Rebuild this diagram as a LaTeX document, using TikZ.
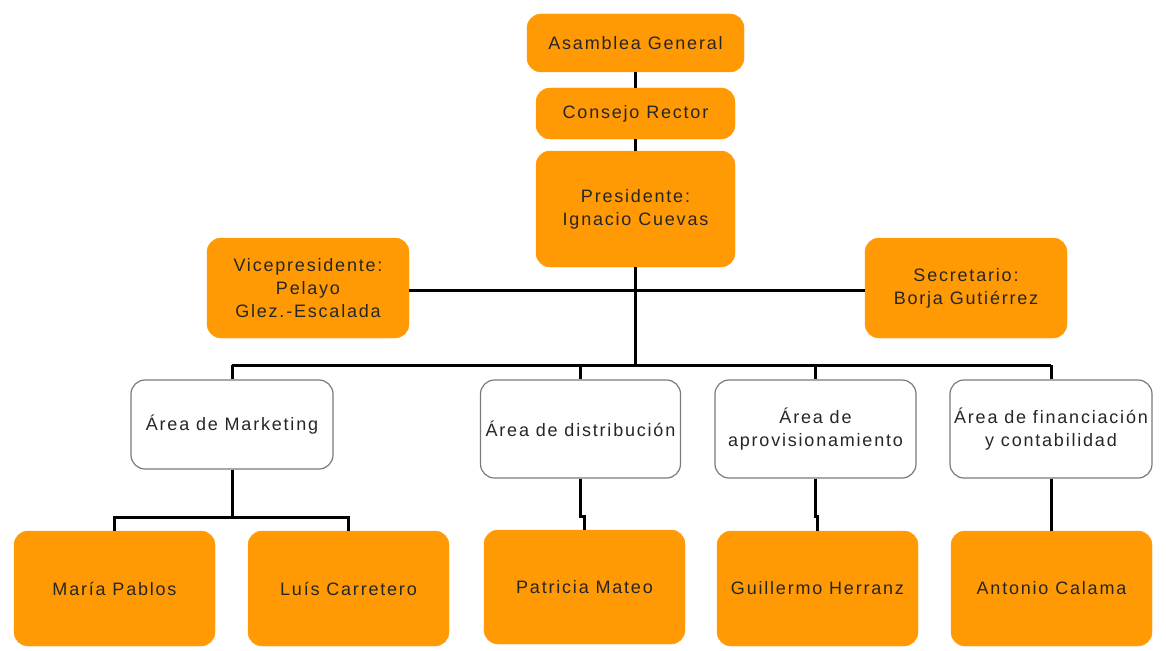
\documentclass[tikz,border=0pt]{standalone}
\usepackage{fontspec}
\setmainfont{Liberation Sans}[LetterSpace=10]
\definecolor{orgfill}{HTML}{FF9A05}
\definecolor{txtc}{HTML}{262626}
\definecolor{wbord}{HTML}{7A7A7A}
\begin{document}
\begin{tikzpicture}[x=1pt,y=-1pt,
  box/.style={rounded corners=14pt, align=center, inner sep=0pt, text=txtc,
    font=\fontsize{18}{23}\selectfont},
  obox/.style={box, fill=orgfill, draw=orgfill},
  wbox/.style={box, fill=white, draw=wbord, line width=1.2pt},
  conn/.style={line width=3pt, black}]
\useasboundingbox[fill=white] (0,0) rectangle (1166,650);

\node[obox, minimum width=217pt, minimum height=58pt] (ag) at (635.5,43) {Asamblea General};
\node[obox, minimum width=199pt, minimum height=51pt] (cr) at (635.5,113.5) {Consejo Rector};
\node[obox, minimum width=199pt, minimum height=116pt] (pres) at (635.5,209) {Presidente:\\Ignacio Cuevas};
\node[obox, minimum width=202pt, minimum height=100pt] (vp) at (308,288) {Vicepresidente:\\Pelayo\\Glez.-Escalada};
\node[obox, minimum width=202pt, minimum height=100pt] (sec) at (966,288) {Secretario:\\Borja Gutiérrez};

\node[wbox, minimum width=202pt, minimum height=89pt] (mk) at (232,424.5) {Área de Marketing};
\node[wbox, minimum width=200pt, minimum height=98pt] (dist) at (580.5,429) {Área de distribución};
\node[wbox, minimum width=201pt, minimum height=98pt] (apr) at (815.5,429) {Área de\\aprovisionamiento};
\node[wbox, minimum width=202pt, minimum height=98pt] (fin) at (1051,429) {Área de financiación\\y contabilidad};

\node[obox, minimum width=201pt, minimum height=115pt] (mp) at (114.5,588.5) {María Pablos};
\node[obox, minimum width=201pt, minimum height=115pt] (lc) at (348.5,588.5) {Luís Carretero};
\node[obox, minimum width=201pt, minimum height=114pt] (pm) at (584.5,587) {Patricia Mateo};
\node[obox, minimum width=201pt, minimum height=115pt] (gh) at (817.5,588.5) {Guillermo Herranz};
\node[obox, minimum width=201pt, minimum height=115pt] (acal) at (1051.5,588.5) {Antonio Calama};

\coordinate (busC) at (635.5,365);
\coordinate (busL) at (232,365);
\coordinate (busR) at (1051,365);
\coordinate (mkj) at (232,517);

\draw[conn] (ag) -- (cr);
\draw[conn] (cr) -- (pres);
\draw[conn] (vp.east |- 0,290) -- (sec.west |- 0,290);
\draw[conn] (pres.south) -- (busC);
\draw[conn] (busL) -- (busR);
\draw[conn] (busL) -- (mk.north);
\draw[conn] (dist.north |- busL) -- (dist.north);
\draw[conn] (apr.north |- busL) -- (apr.north);
\draw[conn] (busR) -- (fin.north);

\draw[conn] (mk.south) -- (mkj);
\draw[conn] (mp.north) |- (mkj) -| (lc.north);
\draw[conn] (dist.south) -- ++(0,38) -| (pm.north);
\draw[conn] (apr.south) -- ++(0,38) -| (gh.north);
\draw[conn] (fin.south) -- ++(0,38) -| (acal.north);
\end{tikzpicture}
\end{document}
